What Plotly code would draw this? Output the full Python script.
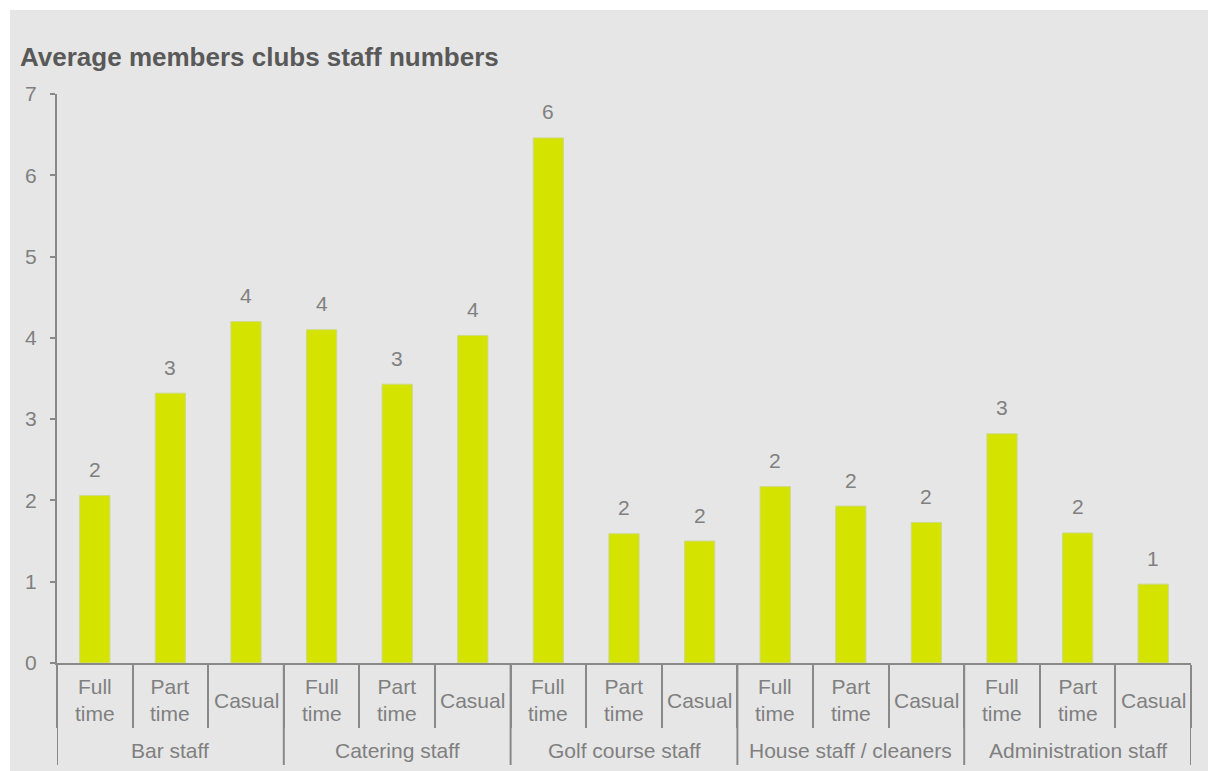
import plotly.graph_objects as go

groups = ["Bar staff", "Catering staff", "Golf course staff", "House staff / cleaners", "Administration staff"]
subcats = ["Full<br>time", "Part<br>time", "Casual"]
values = [
    [2.06, 3.32, 4.20],
    [4.10, 3.43, 4.03],
    [6.46, 1.59, 1.50],
    [2.17, 1.93, 1.73],
    [2.82, 1.60, 0.97],
]
labels = [
    ["2", "3", "4"],
    ["4", "3", "4"],
    ["6", "2", "2"],
    ["2", "2", "2"],
    ["3", "2", "1"],
]
y_ticks = [0, 1, 2, 3, 4, 5, 6, 7]

W, H = 1208, 771
ML, MR, MT, MB = 57, 17, 94, 108
PW, PH = W - ML - MR, H - MT - MB

BAR = "#d4e300"
GRAY_BG = "#e6e6e6"
AXIS = "#898989"
TXT = "#808080"
FONT = "Liberation Sans, Arial, sans-serif"
FS = 21

xs, ys, txts, inner = [], [], [], []
for gi, g in enumerate(groups):
    for si, s in enumerate(subcats):
        xs.append(gi * len(subcats) + si)
        ys.append(values[gi][si])
        txts.append(labels[gi][si])
        inner.append(s)

n = len(xs)

fig = go.Figure()
fig.add_trace(go.Bar(
    x=xs, y=ys, width=0.4,
    marker=dict(color=BAR, line=dict(color="#cfd98a", width=1)),
    hoverinfo="skip",
))

def py(px_from_top):
    return (H - MB - px_from_top) / PH

annotations = []
for x, y, t in zip(xs, ys, txts):
    annotations.append(dict(x=x, y=y, xref="x", yref="y", text=t, showarrow=False,
                            yshift=26, font=dict(size=FS, color=TXT, family=FONT)))
for x, s in zip(xs, inner):
    annotations.append(dict(x=x, y=py(700), xref="x", yref="paper", text=s, showarrow=False,
                            yanchor="middle", font=dict(size=FS, color=TXT, family=FONT)))
for gi, g in enumerate(groups):
    cx = gi * len(subcats) + (len(subcats) - 1) / 2
    annotations.append(dict(x=cx, y=py(750), xref="x", yref="paper", text=g, showarrow=False,
                            yanchor="middle", font=dict(size=FS, color=TXT, family=FONT)))
annotations.append(dict(x=(18 - ML) / PW, y=py(57), xref="paper", yref="paper",
                        text="<b>Average members clubs staff numbers</b>", showarrow=False,
                        xanchor="left", yanchor="middle",
                        font=dict(size=26, color="#595959", family=FONT)))

shapes = [dict(type="rect", xref="paper", yref="paper",
               x0=(10 - ML) / PW, x1=(W - ML) / PW, y0=py(H), y1=py(10),
               fillcolor=GRAY_BG, line=dict(width=0), layer="below")]
for gi in range(len(groups) + 1):
    bx = gi * len(subcats) - 0.5
    shapes.append(dict(type="line", xref="x", yref="paper", x0=bx, x1=bx,
                       y0=0, y1=py(765), line=dict(color=AXIS, width=2)))

fig.update_layout(
    width=W, height=H,
    margin=dict(l=ML, r=MR, t=MT, b=MB),
    paper_bgcolor="white", plot_bgcolor="rgba(0,0,0,0)",
    showlegend=False,
    annotations=annotations, shapes=shapes,
    font=dict(family=FONT, color=TXT),
    xaxis=dict(range=[-0.5, n - 0.5], tickmode="array",
               tickvals=[i - 0.5 for i in range(n + 1)],
               showticklabels=False, ticks="outside", ticklen=63, tickwidth=2, tickcolor=AXIS,
               showline=True, linecolor=AXIS, linewidth=2, showgrid=False, zeroline=False,
               fixedrange=True),
    yaxis=dict(range=[0, 7], tickmode="array", tickvals=y_ticks,
               ticks="outside", ticklen=5, tickwidth=2, tickcolor=AXIS,
               showline=True, linecolor=AXIS, linewidth=2, showgrid=False, zeroline=False,
               tickfont=dict(size=FS, color=TXT, family=FONT), ticklabelstandoff=9,
               fixedrange=True),
)

fig.write_html("out.html")
